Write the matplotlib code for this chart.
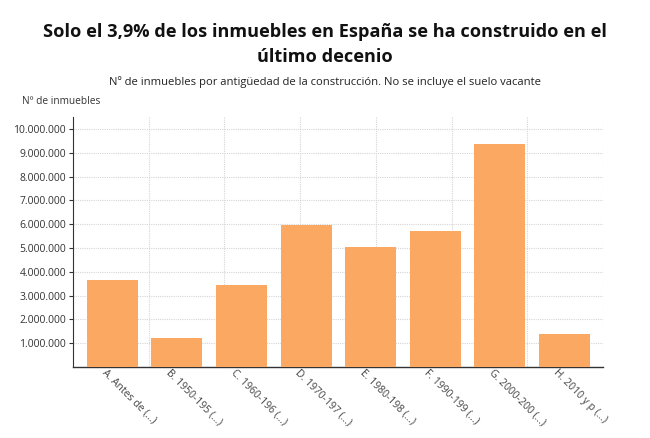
import numpy as np
import matplotlib.pyplot as plt
from matplotlib.ticker import FuncFormatter
from matplotlib.transforms import ScaledTranslation

plt.rcParams['font.family'] = ['Open Sans', 'DejaVu Sans']

categorias = ["A. Antes de (...)", "B. 1950-195 (...)", "C. 1960-196 (...)", "D. 1970-197 (...)",
              "E. 1980-198 (...)", "F. 1990-199 (...)", "G. 2000-200 (...)", "H. 2010 y p (...)"]
inmuebles = [3660000, 1220000, 3450000, 5970000, 5050000, 5720000, 9360000, 1390000]
yticks = [1000000, 2000000, 3000000, 4000000, 5000000, 6000000, 7000000, 8000000, 9000000, 10000000]

fig = plt.figure(figsize=(6.5, 4.38), dpi=100, facecolor='w')
ax = fig.add_axes([73/650, 1-367/438, 530/650, 250/438])

x = np.arange(len(categorias))
ax.bar(x, inmuebles, width=0.79, color='#fba962', zorder=3)

xl = (-0.61, 7.6)
ax.set_xlim(xl)
ax.set_ylim(0, 10500000)

# grid: horizontal at ticks, vertical splitting the area in 7
ax.set_yticks(yticks)
ax.yaxis.grid(True, color='#d6d6d6', linestyle=(0, (1, 1)), linewidth=0.8, zorder=0)
for k in range(1, 8):
    ax.axvline(xl[0] + k*(xl[1]-xl[0])/7, color='#d6d6d6', linestyle=(0, (1, 1)), linewidth=0.8, zorder=0)

ax.yaxis.set_major_formatter(FuncFormatter(lambda v, p: "{:,.0f}".format(v).replace(",", ".")))
ax.set_xticks(x)
ax.set_xticklabels(categorias, rotation=-45, ha='left', va='top', rotation_mode='anchor',
                   fontsize=7.5, color='#444444')
ax.tick_params(axis='x', length=0, pad=1)
ax.tick_params(axis='y', length=3, width=0.8, color='#333333', labelsize=7.5, labelcolor='#333333', pad=2)
for lab in ax.get_xticklabels():
    lab.set_transform(lab.get_transform() + ScaledTranslation(-5/100, 1/100, fig.dpi_scale_trans))

for s in ['top', 'right']:
    ax.spines[s].set_visible(False)
ax.spines['left'].set_linestyle((0, (1, 1)))
ax.spines['left'].set_color('#333333')
ax.spines['bottom'].set_color('#333333')
ax.spines['bottom'].set_linewidth(1.0)

fig.text(0.5, 1-32/438, "Solo el 3,9% de los inmuebles en España se ha construido en el",
         ha='center', va='center', fontsize=13.1, fontweight='bold', color='#111111')
fig.text(0.5, 1-57/438, "último decenio",
         ha='center', va='center', fontsize=13.1, fontweight='bold', color='#111111')
fig.text(0.5, 1-82/438, "Nº de inmuebles por antigüedad de la construcción. No se incluye el suelo vacante",
         ha='center', va='center', fontsize=8.1, color='#222222')
fig.text(22/650, 1-102/438, "Nº de inmuebles", ha='left', va='center', fontsize=7.3, color='#333333')

fig.savefig('out.png', dpi=100)
